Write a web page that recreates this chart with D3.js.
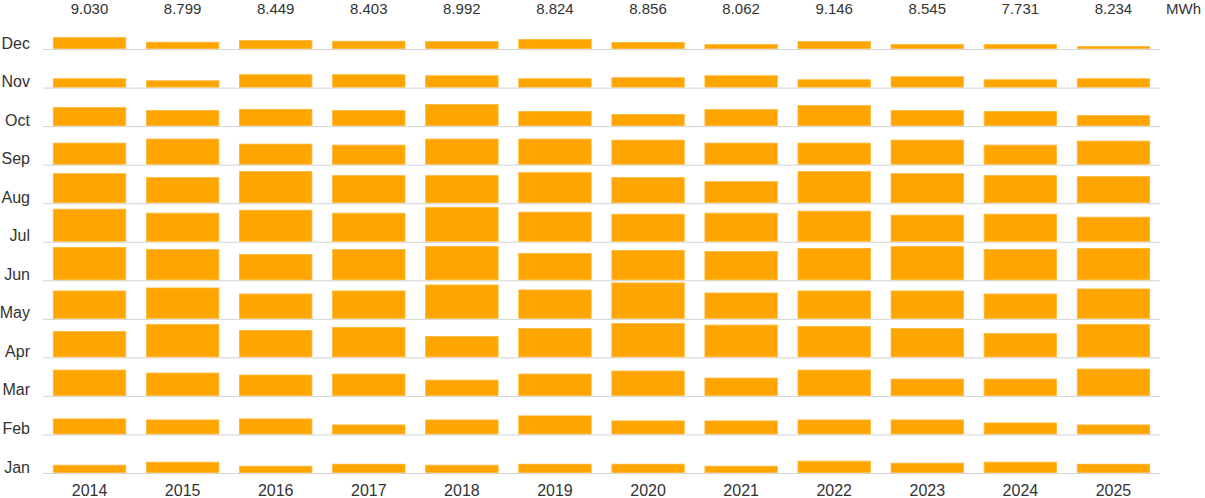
<!DOCTYPE html>
<html>
<head>
<meta charset="utf-8">
<script src="https://cdn.jsdelivr.net/npm/d3@7"></script>
<style>
  body { margin: 0; background: #fff; }
  text { font-family: "Liberation Sans", Arial, sans-serif; }
</style>
</head>
<body>
<svg id="chart" width="1205" height="498"></svg>
<script>
const years = ["2014","2015","2016","2017","2018","2019","2020","2021","2022","2023","2024","2025"];
const months = ["Jan","Feb","Mar","Apr","May","Jun","Jul","Aug","Sep","Oct","Nov","Dec"];
const totals = ["9.030","8.799","8.449","8.403","8.992","8.824","8.856","8.062","9.146","8.545","7.731","8.234"];
const unitLabel = "MWh";
// monthly production in kWh, Jan..Dec per year
const kwh2014 = [262, 539, 908, 908, 980, 1160, 1149, 1041, 754, 646, 298, 395];
const kwh2015 = [370, 503, 801, 1160, 1088, 1088, 1005, 898, 898, 539, 226, 226];
const kwh2016 = [226, 539, 729, 944, 872, 908, 1113, 1113, 718, 585, 442, 287];
const kwh2017 = [298, 323, 765, 1052, 980, 1088, 1005, 969, 682, 539, 442, 262];
const kwh2018 = [262, 503, 549, 729, 1195, 1195, 1210, 969, 898, 754, 406, 251];
const kwh2019 = [298, 646, 765, 1016, 1016, 944, 1041, 1077, 898, 503, 298, 323];
const kwh2020 = [298, 467, 872, 1195, 1267, 1052, 969, 898, 862, 395, 334, 215];
const kwh2021 = [226, 467, 621, 1138, 908, 1016, 1005, 754, 754, 574, 406, 144];
const kwh2022 = [406, 503, 908, 1088, 980, 1124, 1077, 1113, 754, 718, 262, 251];
const kwh2023 = [334, 503, 585, 1016, 980, 1195, 933, 1041, 862, 539, 370, 144];
const kwh2024 = [370, 395, 585, 836, 872, 1088, 969, 969, 682, 503, 262, 144];
const kwh2025 = [298, 323, 944, 1160, 1052, 1124, 862, 933, 826, 359, 298, 72];
const series = [kwh2014,kwh2015,kwh2016,kwh2017,kwh2018,kwh2019,kwh2020,kwh2021,kwh2022,kwh2023,kwh2024,kwh2025];

const cells = [];
years.forEach((y, yi) => months.forEach((m, mi) => cells.push({year: y, month: m, value: series[yi][mi]})));

const svg = d3.select("#chart");
const mLeft = 43, mRight = 1160, mTop = 11, mBottom = 473.5;

const x = d3.scaleBand().domain(years).range([mLeft, mRight]).paddingInner(0.222).paddingOuter(0.111);
const rowH = (mBottom - mTop) / months.length;
const row = d3.scaleBand().domain(months.slice().reverse()).range([mTop, mBottom]).padding(0);
const h = d3.scaleLinear().domain([0, 1380]).range([0, rowH]);

// gridlines (baselines)
svg.append("g").selectAll("line").data(months).join("line")
  .attr("x1", mLeft).attr("x2", mRight)
  .attr("y1", d => row(d) + row.bandwidth())
  .attr("y2", d => row(d) + row.bandwidth())
  .attr("stroke", "#d3d3d3").attr("stroke-width", 1);

// bars
svg.append("g").selectAll("rect").data(cells).join("rect")
  .attr("x", d => x(d.year))
  .attr("width", x.bandwidth())
  .attr("y", d => row(d.month) + row.bandwidth() - 1 - h(d.value))
  .attr("height", d => h(d.value))
  .attr("fill", "#FFA500")
  .attr("stroke", "#FFB733").attr("stroke-width", 0.8);

// month labels
svg.append("g").selectAll("text").data(months).join("text")
  .attr("x", 30)
  .attr("y", d => row(d) + row.bandwidth() - 1)
  .attr("text-anchor", "end")
  .attr("font-size", 16).attr("fill", "#333")
  .text(d => d);

// year labels
svg.append("g").selectAll("text").data(years).join("text")
  .attr("x", d => x(d) + x.bandwidth() / 2)
  .attr("y", 496)
  .attr("text-anchor", "middle")
  .attr("font-size", 16).attr("fill", "#333")
  .text(d => d);

// totals
svg.append("g").selectAll("text").data(years).join("text")
  .attr("x", d => x(d) + x.bandwidth() / 2)
  .attr("y", 13.7)
  .attr("text-anchor", "middle")
  .attr("font-size", 15).attr("fill", "#333")
  .text((d, i) => totals[i]);

svg.append("text")
  .attr("x", 1166).attr("y", 13.7)
  .attr("font-size", 15).attr("fill", "#333")
  .text(unitLabel);
</script>
</body>
</html>
